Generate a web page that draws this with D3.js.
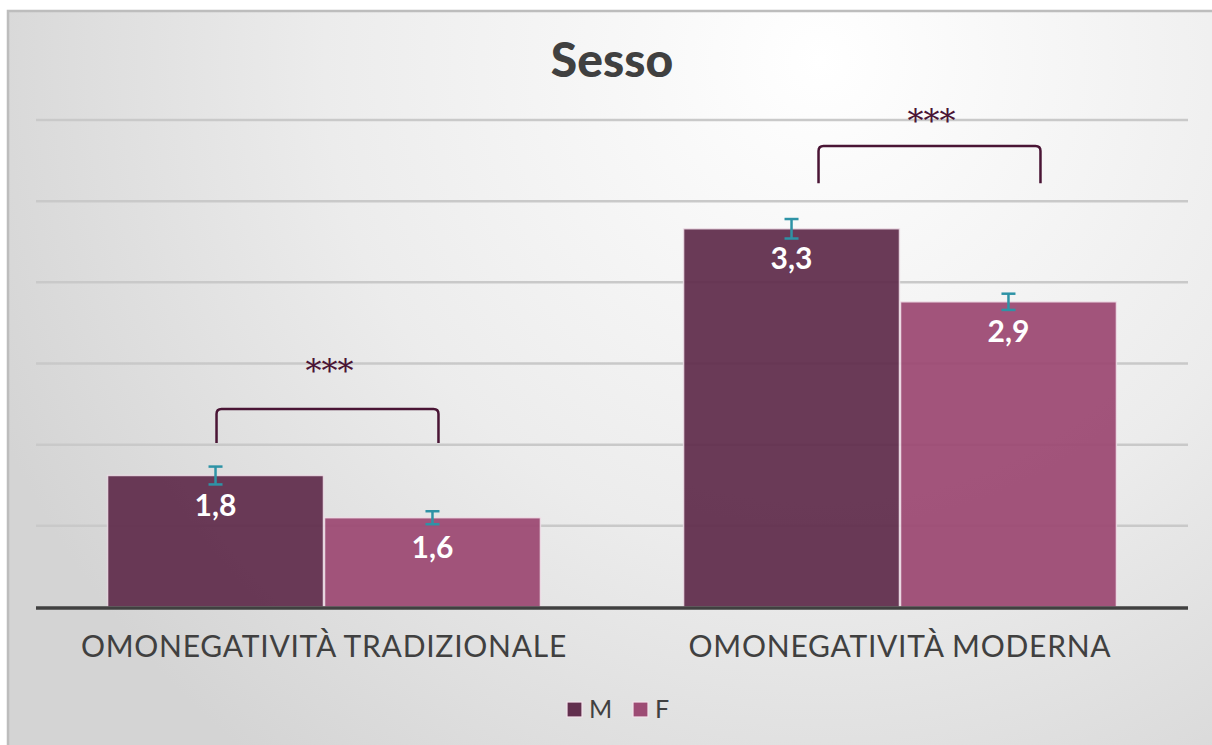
<!DOCTYPE html>
<html>
<head>
<meta charset="utf-8">
<script src="https://cdn.jsdelivr.net/npm/d3@7"></script>
<style>
  body { margin: 0; background: #ffffff; }
  svg { display: block; }
</style>
</head>
<body>
<svg id="drawing_region"></svg>
<script>
// data
const categories = ["OMONEGATIVITÀ TRADIZIONALE", "OMONEGATIVITÀ MODERNA"];
const seriesNames = ["M", "F"];
const valuesM = [1.81, 3.33];
const valuesF = [1.55, 2.88];
const errorsM = [0.055, 0.06];
const errorsF = [0.04, 0.05];
const labelsM = ["1,8", "3,3"];
const labelsF = ["1,6", "2,9"];
const gridTicks = [1.5, 2, 2.5, 3, 3.5, 4];
// significance brackets: top value, leg bottom value, star height value
const bracketTop = [2.22, 3.84];
const bracketBottom = [2.01, 3.61];
const starLevel = [2.47, 4.01];
const signif = ["***", "***"];

const colors = { M: "#622f4e", F: "#9d4b74" };

const W = 1212, H = 745;
const svg = d3.select("#drawing_region").attr("width", W).attr("height", H);

// background with soft gradient
const defs = svg.append("defs");
const grad = defs.append("radialGradient")
    .attr("id", "bg")
    .attr("gradientUnits", "userSpaceOnUse")
    .attr("cx", 820).attr("cy", 60).attr("r", 900);
grad.append("stop").attr("offset", "0%").attr("stop-color", "#ffffff");
grad.append("stop").attr("offset", "55%").attr("stop-color", "#ececec");
grad.append("stop").attr("offset", "100%").attr("stop-color", "#d4d4d4");

svg.append("rect").attr("x", 8).attr("y", 11).attr("width", W).attr("height", H)
    .attr("fill", "url(#bg)")
    .attr("stroke", "#bdbdbd").attr("stroke-width", 2.5);

const plot = { left: 36, right: 1188, top: 120, bottom: 607 };

const x0 = d3.scaleBand().domain(categories)
    .range([plot.left, plot.right]).paddingInner(0).paddingOuter(0);
const x1 = d3.scaleBand().domain(seriesNames)
    .range([0, x0.bandwidth()]).paddingOuter(0.33).paddingInner(0.005);
const y = d3.scaleLinear().domain([1, 4]).range([plot.bottom, plot.top]);

// gridlines
svg.append("g").selectAll("line").data(gridTicks).join("line")
    .attr("x1", plot.left).attr("x2", plot.right)
    .attr("y1", d => y(d)).attr("y2", d => y(d))
    .attr("stroke", "#c9c9c9").attr("stroke-width", 2.5);

// title
svg.append("text").attr("x", 612).attr("y", 77)
    .attr("text-anchor", "middle")
    .attr("font-family", "Lato, sans-serif").attr("font-weight", "900")
    .attr("font-size", 48).attr("fill", "#404040")
    .text("Sesso");

const rows = [];
categories.forEach((c, i) => {
    rows.push({ cat: c, s: "M", v: valuesM[i], e: errorsM[i], label: labelsM[i] });
    rows.push({ cat: c, s: "F", v: valuesF[i], e: errorsF[i], label: labelsF[i] });
});

// bars
svg.append("g").selectAll("rect").data(rows).join("rect")
    .attr("x", d => x0(d.cat) + x1(d.s))
    .attr("y", d => y(d.v))
    .attr("width", x1.bandwidth())
    .attr("height", d => y(1) - y(d.v))
    .attr("fill", d => colors[d.s])
    .attr("fill-opacity", 0.95)
    .attr("stroke", "#f3e3ec").attr("stroke-opacity", 0.8).attr("stroke-width", 1.5);

// axis baseline
svg.append("line").attr("x1", plot.left).attr("x2", plot.right)
    .attr("y1", y(1) + 1).attr("y2", y(1) + 1)
    .attr("stroke", "#404040").attr("stroke-width", 3.5);

// error bars
const cx = d => x0(d.cat) + x1(d.s) + x1.bandwidth() / 2;
const eg = svg.append("g").attr("stroke", "#2e93a6").attr("stroke-width", 2.5);
rows.forEach(d => {
    eg.append("line").attr("x1", cx(d)).attr("x2", cx(d))
        .attr("y1", y(d.v + d.e)).attr("y2", y(d.v - d.e));
    eg.append("line").attr("x1", cx(d) - 7).attr("x2", cx(d) + 7)
        .attr("y1", y(d.v + d.e)).attr("y2", y(d.v + d.e));
    eg.append("line").attr("x1", cx(d) - 7).attr("x2", cx(d) + 7)
        .attr("y1", y(d.v - d.e)).attr("y2", y(d.v - d.e));
});

// value labels
svg.append("g").selectAll("text").data(rows).join("text")
    .attr("x", d => cx(d))
    .attr("y", d => y(d.v) + 40)
    .attr("text-anchor", "middle")
    .attr("font-family", "Lato, sans-serif").attr("font-weight", "bold")
    .attr("font-size", 30).attr("fill", "#ffffff")
    .text(d => d.label);

// category labels
svg.append("g").selectAll("text").data(categories).join("text")
    .attr("x", d => x0(d) + x0.bandwidth() / 2)
    .attr("y", 657)
    .attr("text-anchor", "middle")
    .attr("font-family", "Lato, sans-serif")
    .attr("font-size", 30).attr("letter-spacing", 0.75)
    .attr("fill", "#404040")
    .text(d => d);

// significance brackets (the second one sits a bit right of the bar centres)
const bracketShift = [1, 27];
const bg = svg.append("g");
categories.forEach((c, i) => {
    const xl = x0(c) + x1("M") + x1.bandwidth() / 2 + bracketShift[i];
    const xr = x0(c) + x1("F") + x1.bandwidth() / 2 + bracketShift[i] + 5;
    const yt = y(bracketTop[i]), yb = y(bracketBottom[i]);
    const p = d3.path();
    p.moveTo(xl, yb);
    p.lineTo(xl, yt + 5);
    p.quadraticCurveTo(xl, yt, xl + 5, yt);
    p.lineTo(xr - 5, yt);
    p.quadraticCurveTo(xr, yt, xr, yt + 5);
    p.lineTo(xr, yb);
    bg.append("path").attr("d", p.toString())
        .attr("fill", "none").attr("stroke", "#4a1535").attr("stroke-width", 2.5);
    bg.append("text")
        .attr("x", (xl + xr) / 2 + 2)
        .attr("y", y(starLevel[i]) + 14)
        .attr("text-anchor", "middle")
        .attr("font-family", "'DejaVu Serif', serif")
        .attr("font-size", 32).attr("fill", "#4a1535")
        .text(signif[i]);
});

// legend
const leg = svg.append("g").attr("transform", "translate(567, 702)");
const legX = [0, 66];
seriesNames.forEach((s, i) => {
    leg.append("rect").attr("x", legX[i]).attr("y", 0).attr("width", 15).attr("height", 15)
        .attr("fill", colors[s]).attr("stroke", "#f3e3ec").attr("stroke-width", 1.2);
    leg.append("text").attr("x", legX[i] + 22).attr("y", 16)
        .attr("font-family", "Lato, sans-serif")
        .attr("font-size", 25).attr("fill", "#404040")
        .text(s);
});
</script>
</body>
</html>
